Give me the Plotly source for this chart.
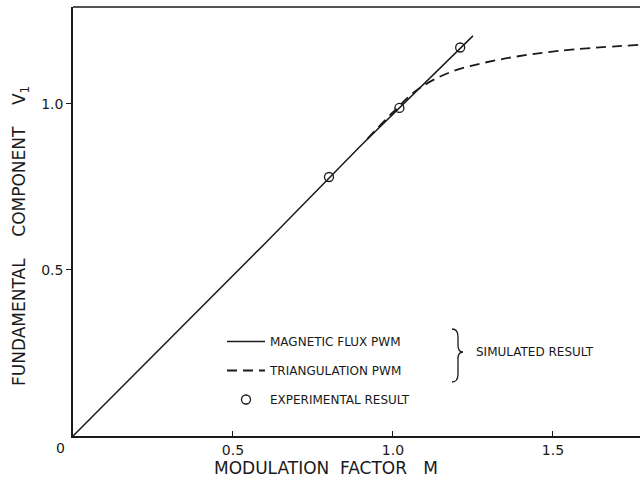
import plotly.graph_objects as go

# Data
flux_m = [0.0, 0.3, 0.6, 0.9, 1.25]
flux_v = [0.0, 0.29, 0.58, 0.875, 1.205]

tri_m = [0.92, 1.0, 1.075, 1.18, 1.33, 1.52, 1.77]
tri_v = [0.895, 0.975, 1.042, 1.096, 1.133, 1.160, 1.178]

exp_m = [0.80, 1.02, 1.21]
exp_v = [0.78, 0.988, 1.17]

x_ticks = [0.5, 1.0, 1.5]
x_tick_labels = ["0.5", "1.0", "1.5"]
y_ticks = [0.5, 1.0]
y_tick_labels = ["0.5", "1.0"]

FONT = "DejaVu Sans"
INK = "#1a1a1a"

L, T, W, H = 73, 7, 567, 429  # plot area in pixels


def px(x):
    return (x - L) / W


def py(y):
    return (T + H - y) / H


fig = go.Figure()
fig.add_trace(go.Scatter(x=flux_m, y=flux_v, mode="lines", name="MAGNETIC FLUX PWM",
                         line=dict(color=INK, width=1.5), legendgroup="a"))
fig.add_trace(go.Scatter(x=tri_m, y=tri_v, mode="lines", name="TRIANGULATION PWM",
                         line=dict(color=INK, width=1.8, dash="10px,6px", shape="spline"),
                         legendgroup="b"))
fig.add_trace(go.Scatter(x=exp_m, y=exp_v, mode="markers", name="EXPERIMENTAL RESULT",
                         marker=dict(symbol="circle-open", size=9, color=INK, line=dict(width=1.3)),
                         legendgroup="c"))

# Curly brace drawn as a path in paper coordinates
bx0, bx1, btop, bbot, bmid = 452, 463, 329, 382, 352
brace = (f"M {px(bx0)},{py(btop)} "
         f"Q {px(bx0 + 6)},{py(btop)} {px(bx0 + 6)},{py(btop + 8)} "
         f"L {px(bx0 + 6)},{py(bmid - 7)} "
         f"Q {px(bx0 + 6)},{py(bmid)} {px(bx1)},{py(bmid)} "
         f"Q {px(bx0 + 6)},{py(bmid)} {px(bx0 + 6)},{py(bmid + 7)} "
         f"L {px(bx0 + 6)},{py(bbot - 8)} "
         f"Q {px(bx0 + 6)},{py(bbot)} {px(bx0)},{py(bbot)}")

fig.update_layout(
    width=640, height=500,
    margin=dict(l=L, r=0, t=T, b=500 - T - H),
    paper_bgcolor="white", plot_bgcolor="white",
    font=dict(family=FONT, color=INK, size=13),
    showlegend=True,
    legend=dict(x=px(222), y=py(327), xanchor="left", yanchor="top",
                bgcolor="rgba(0,0,0,0)", tracegroupgap=10, traceorder="grouped",
                itemwidth=38,
                font=dict(size=12, family=FONT, color=INK)),
    xaxis=dict(range=[0, 1.772], showgrid=False, zeroline=False, showline=True,
               linecolor=INK, linewidth=1.5, ticks="inside", ticklen=5, tickcolor=INK,
               tickvals=x_ticks, ticktext=x_tick_labels, tickfont=dict(size=14)),
    yaxis=dict(range=[0, 1.292], showgrid=False, zeroline=False, showline=True,
               linecolor=INK, linewidth=1.5, ticks="outside", ticklen=5, tickcolor=INK,
               tickvals=y_ticks, ticktext=y_tick_labels, tickfont=dict(size=14)),
    shapes=[
        dict(type="line", xref="paper", yref="paper", x0=0, x1=1, y0=1, y1=1,
             line=dict(color=INK, width=1.5)),
        dict(type="path", xref="paper", yref="paper", path=brace,
             line=dict(color=INK, width=1.3)),
    ],
    annotations=[
        dict(text="MODULATION  FACTOR   M", xref="paper", yref="paper",
             x=px(326), y=py(468), xanchor="center", yanchor="middle",
             showarrow=False, font=dict(size=17)),
        dict(text="FUNDAMENTAL    COMPONENT    V<sub>1</sub>", xref="paper", yref="paper",
             x=px(20), y=py(236), xanchor="center", yanchor="middle",
             textangle=-90, showarrow=False, font=dict(size=17)),
        dict(text="0", xref="paper", yref="paper", x=px(60), y=py(448),
             xanchor="center", yanchor="middle", showarrow=False, font=dict(size=14)),
        dict(text="SIMULATED RESULT", xref="paper", yref="paper", x=px(474),
             y=py(352), xanchor="left", yanchor="middle", showarrow=False,
             font=dict(size=12)),
    ],
)

fig.write_html("out.html", config={"displayModeBar": False},
               post_script="document.body.style.margin='0';")
